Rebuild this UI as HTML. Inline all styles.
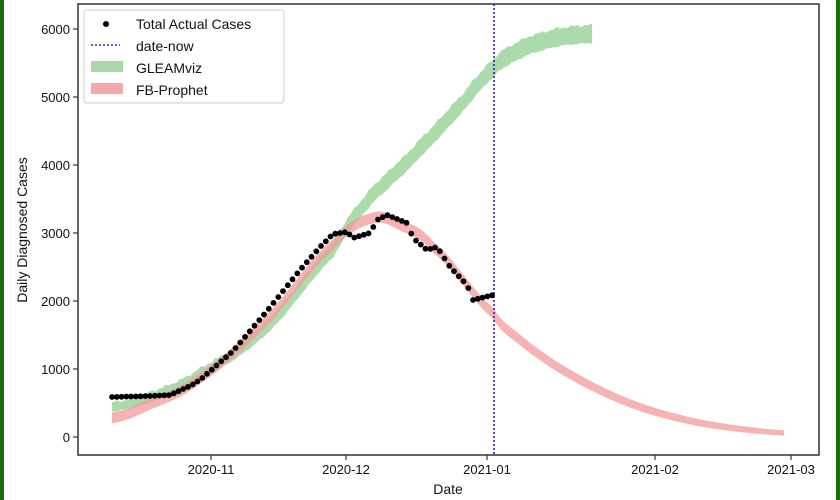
<!DOCTYPE html>
<html><head><meta charset="utf-8"><style>
html,body{margin:0;padding:0;background:#fff}
svg{display:block;font-family:"Liberation Sans","DejaVu Sans",sans-serif}
</style></head><body>
<svg id="s" width="840" height="500" xmlns="http://www.w3.org/2000/svg">
<rect x="0" y="0" width="840" height="500" fill="#fff"/>
<rect x="0" y="0" width="4" height="500" fill="#1e6b12"/>
<rect x="836" y="0" width="4" height="500" fill="#1e6b12"/>
<g id="bands"></g>
<line x1="494" y1="4" x2="494" y2="455" stroke="#2222bb" stroke-width="1.6" stroke-dasharray="2,2"/>
<g id="dots" fill="#000"></g>
<rect x="78" y="4" width="741" height="451" fill="none" stroke="#333" stroke-width="1.5"/>
<g font-size="13" fill="#111" text-anchor="end">
<text x="70" y="34">6000</text><text x="70" y="102">5000</text><text x="70" y="170">4000</text>
<text x="70" y="238">3000</text><text x="70" y="306">2000</text><text x="70" y="374">1000</text><text x="70" y="442">0</text>
</g>
<g stroke="#333" stroke-width="1.2">
<line x1="73" y1="29" x2="78" y2="29"/><line x1="73" y1="97" x2="78" y2="97"/><line x1="73" y1="165" x2="78" y2="165"/>
<line x1="73" y1="233" x2="78" y2="233"/><line x1="73" y1="301" x2="78" y2="301"/><line x1="73" y1="369" x2="78" y2="369"/><line x1="73" y1="437" x2="78" y2="437"/>
<line x1="211" y1="455" x2="211" y2="460"/><line x1="346" y1="455" x2="346" y2="460"/><line x1="487" y1="455" x2="487" y2="460"/>
<line x1="655" y1="455" x2="655" y2="460"/><line x1="791" y1="455" x2="791" y2="460"/>
</g>
<g font-size="13" fill="#111" text-anchor="middle">
<text x="211" y="474">2020-11</text><text x="346" y="474">2020-12</text><text x="487" y="474">2021-01</text>
<text x="655" y="474">2021-02</text><text x="791" y="474">2021-03</text>
</g>
<text x="448" y="494" font-size="14" text-anchor="middle" fill="#111">Date</text>
<text transform="translate(27,230) rotate(-90)" font-size="14" text-anchor="middle" fill="#111">Daily Diagnosed Cases</text>
<rect x="84" y="10" width="200" height="93" rx="3" fill="#fff" fill-opacity="0.85" stroke="#ccc"/>
<circle cx="106" cy="24" r="3" fill="#000"/>
<line x1="91" y1="45" x2="120" y2="45" stroke="#2222bb" stroke-width="1.6" stroke-dasharray="2,2"/>
<rect x="91" y="61" width="32" height="11" fill="#a8d8a8"/>
<rect x="91" y="83" width="32" height="11" fill="#f4a8a8"/>
<g font-size="14" fill="#111"><text x="136" y="29">Total Actual Cases</text><text x="136" y="51">date-now</text><text x="136" y="73">GLEAMviz</text><text x="136" y="95">FB-Prophet</text></g>
</svg>
<script>
function cr(pts,x){var i=0;while(i<pts.length-2&&x>pts[i+1][0])i++;var p0=pts[Math.max(0,i-1)],p1=pts[i],p2=pts[i+1],p3=pts[Math.min(pts.length-1,i+2)];var t=(x-p1[0])/(p2[0]-p1[0]);t=Math.max(0,Math.min(1,t));var t2=t*t,t3=t2*t;return 0.5*((2*p1[1])+(-p0[1]+p2[1])*t+(2*p0[1]-5*p1[1]+4*p2[1]-p3[1])*t2+(-p0[1]+3*p1[1]-3*p2[1]+p3[1])*t3);}
function lin(pts,x){for(var i=0;i<pts.length-1;i++){if(x>=pts[i][0]&&x<=pts[i+1][0]){var t=(x-pts[i][0])/(pts[i+1][0]-pts[i][0]);return pts[i][1]+t*(pts[i+1][1]-pts[i][1]);}}return pts[pts.length-1][1];}
function band(pts,x0,x1,w,col,noise){var top=[],bot=[];for(var x=x0;x<=x1;x+=2){var y=cr(pts,x);var ww=w(x);var n=noise?(Math.sin(x*0.9)+Math.sin(x*0.37))*noise:0;top.push(x+','+(y-ww/2+n).toFixed(1));bot.unshift(x+','+(y+ww/2-n*0.5).toFixed(1));}
var p=document.createElementNS('http://www.w3.org/2000/svg','polygon');p.setAttribute('points',top.concat(bot).join(' '));p.setAttribute('fill',col);p.setAttribute('fill-opacity','0.75');document.getElementById('bands').appendChild(p);}
var green=[[112,407],[150,397],[200,374],[267,327],[333,250],[367,202],[390,178],[420,148],[460,106],[494,68],[510,55],[530,45],[560,37],[592,34]];
var pink=[[112,418],[150,404],[200,378],[267,320],[333,245],[373,218],[400,225],[433,247],[493,313],[520,340],[550,362],[580,380],[610,395],[640,407],[670,416],[700,423],[740,429],[785,433]];
band(green,112,592,function(x){return 9+Math.min(9,(x-112)/35);},'#8fcd8f',0.8);
band(pink,112,785,function(x){return x<500?11:Math.max(5,11-(x-500)/50);},'#f29a9a',0);
var d=[[112,397],[150,396],[170,395],[190,386],[200,380],[233,351],[267,311],[300,270],[320,247],[333,234],[347,232],[353,238],[370,233],[377,220],[387,215],[407,223],[413,238],[427,250],[437,247],[450,267],[467,285],[473,300],[493,295],[496,294]];
var g=document.getElementById('dots');for(var x=112;x<=496;x+=4.75){var c=document.createElementNS('http://www.w3.org/2000/svg','circle');c.setAttribute('cx',x.toFixed(1));c.setAttribute('cy',lin(d,x).toFixed(1));c.setAttribute('r','2.9');g.appendChild(c);}
</script>
</body></html>
